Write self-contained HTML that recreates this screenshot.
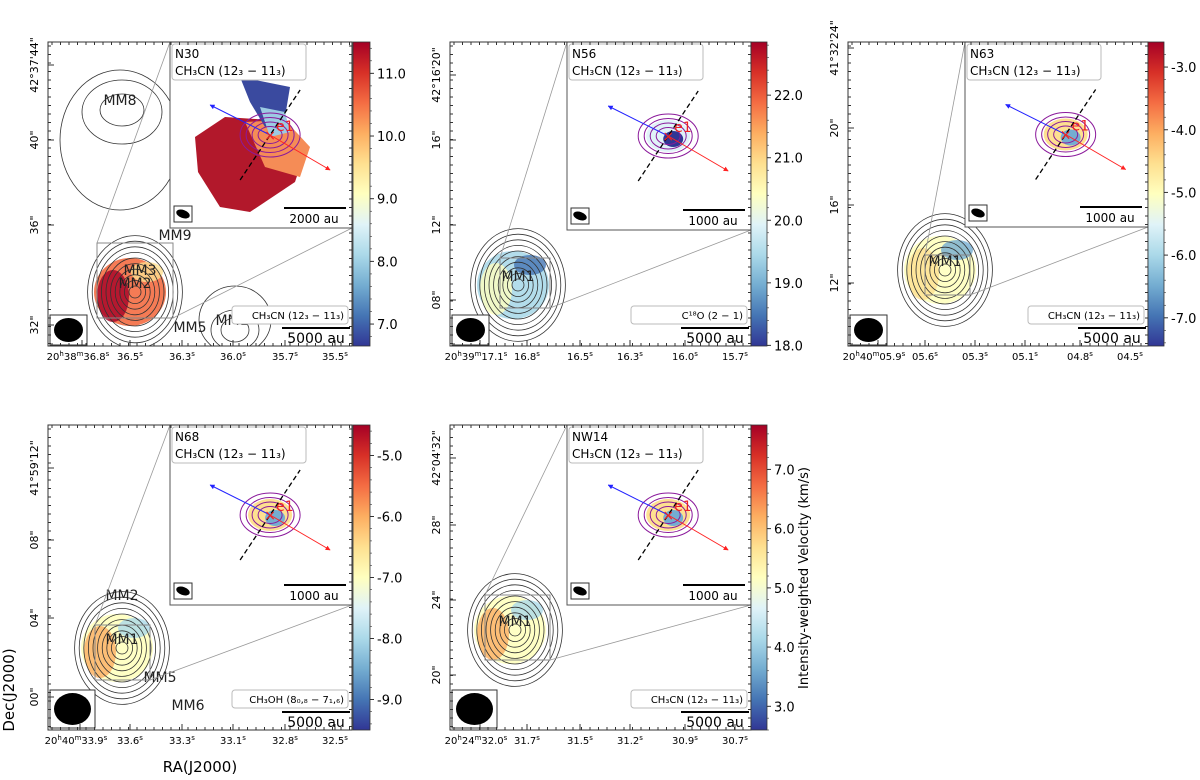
<!DOCTYPE html>
<html><head><meta charset="utf-8">
<style>
html,body{margin:0;padding:0;background:#fff;}
svg{display:block;font-family:"DejaVu Sans","Liberation Sans",sans-serif;}
</style></head>
<body>
<svg id="fig" width="1200" height="780" viewBox="0 0 1200 780" xmlns="http://www.w3.org/2000/svg">
<defs>
<linearGradient id="cmap" x1="0" y1="1" x2="0" y2="0">
<stop offset="0" stop-color="#313695"/><stop offset="0.1" stop-color="#4575b4"/><stop offset="0.2" stop-color="#74add1"/><stop offset="0.3" stop-color="#abd9e9"/><stop offset="0.4" stop-color="#e0f3f8"/><stop offset="0.5" stop-color="#ffffbf"/><stop offset="0.6" stop-color="#fee090"/><stop offset="0.7" stop-color="#fdae61"/><stop offset="0.8" stop-color="#f46d43"/><stop offset="0.9" stop-color="#d73027"/><stop offset="1" stop-color="#a50026"/>
</linearGradient>
<marker id="ar" viewBox="0 0 10 10" refX="9" refY="5" markerWidth="5" markerHeight="5" orient="auto"><path d="M0,0L10,5L0,10z" fill="#f22"/></marker>
<marker id="ab" viewBox="0 0 10 10" refX="9" refY="5" markerWidth="5" markerHeight="5" orient="auto"><path d="M0,0L10,5L0,10z" fill="#22f"/></marker>
</defs>
<text x="14" y="690" font-size="15" text-anchor="middle" transform="rotate(-90 14 690)">Dec(J2000)</text>
<text x="200" y="772" font-size="15" text-anchor="middle">RA(J2000)</text>
<text x="808" y="578" font-size="13" text-anchor="middle" transform="rotate(-90 808 578)">Intensity-weighted Velocity (km/s)</text>
</svg>
<script>
// ---- data ----
const panelNames = ["N30","N56","N63","N68","NW14"];
const lineLabels = ["CH₃CN (12₃ − 11₃)","C¹⁸O (2 − 1)","CH₃CN (12₃ − 11₃)","CH₃OH (8₀,₈ − 7₁,₆)","CH₃CN (12₃ − 11₃)"];
const cbTicks1 = [7.0,8.0,9.0,10.0,11.0];
const cbTicks2 = [18.0,19.0,20.0,21.0,22.0];
const cbTicks3 = [-7.0,-6.0,-5.0,-4.0,-3.0];
const cbTicks4 = [-9.0,-8.0,-7.0,-6.0,-5.0];
const cbTicks5 = [3.0,4.0,5.0,6.0,7.0];
const cbRanges = [[6.65,11.5],[17.99,22.85],[-7.45,-2.6],[-9.5,-4.5],[2.6,7.75]];
const yTicks1 = ["42°37'44\"","40\"","36\"","32\""];
const yTicks2 = ["42°16'20\"","16\"","12\"","08\""];
const yTicks3 = ["41°32'24\"","20\"","16\"","12\""];
const yTicks4 = ["41°59'12\"","08\"","04\"","00\""];
const yTicks5 = ["42°04'32\"","28\"","24\"","20\""];
const xTicks1 = ["20h38m36.8s","36.5s","36.3s","36.0s","35.7s","35.5s"];
const xTicks2 = ["20h39m17.1s","16.8s","16.5s","16.3s","16.0s","15.7s"];
const xTicks3 = ["20h40m05.9s","05.6s","05.3s","05.1s","04.8s","04.5s"];
const xTicks4 = ["20h40m33.9s","33.6s","33.3s","33.1s","32.8s","32.5s"];
const xTicks5 = ["20h24m32.0s","31.7s","31.5s","31.2s","30.9s","30.7s"];
const contourLevels = [1,2,3,4,5,6,7,8,9,10];
const sourceVel = [10.6,19.6,-5.2,-6.8,5.3];

const S = "http://www.w3.org/2000/svg";
const fig = document.getElementById('fig');
function el(t,a,p){const e=document.createElementNS(S,t);for(const k in a)e.setAttribute(k,a[k]);(p||fig).appendChild(e);return e;}
const stops=["#313695","#4575b4","#74add1","#abd9e9","#e0f3f8","#ffffbf","#fee090","#fdae61","#f46d43","#d73027","#a50026"];
function cmap(f){f=Math.max(0,Math.min(1,f));return stops[Math.round(f*10)];}
function raText(t,s){
  const parts=s.split(/([hms])/).filter(p=>p);
  let up=false;
  parts.forEach(p=>{
    const sup=(p==='h'||p==='m'||p==='s');
    const a={};
    if(sup){a['font-size']='7';if(!up)a.dy='-4';up=true;}
    else{if(up)a.dy='4';up=false;}
    const ts=el('tspan',a,t);ts.textContent=p;});
}

const layout=[
 {f:[48,42,304,304],cb:[353,42,17,304],ins:[170,42,182,186],box:[97,243,76,75],src:[135,292],yl:[65,140,225,325],xl:[82,130,182,233,285,335],beam:[50,315,37,30]},
 {f:[450,42,301,304],cb:[751,42,16,304],ins:[567,42,184,188],box:[500,258,50,50],src:[518,285],yl:[75,140,225,300],xl:[480,527,580,630,685,735],beam:[452,315,37,30]},
 {f:[848,42,300,304],cb:[1148,42,16,304],ins:[965,42,183,185],box:[925,255,45,40],src:[945,270],yl:[48,128,205,283],xl:[878,925,975,1025,1080,1130],beam:[850,315,37,30]},
 {f:[48,425,304,305],cb:[353,425,17,305],ins:[170,425,182,180],box:[95,625,55,55],src:[122,648],yl:[468,540,618,697],xl:[80,130,182,233,285,335],beam:[50,690,45,38]},
 {f:[450,425,301,305],cb:[751,425,16,305],ins:[567,425,184,180],box:[485,595,65,65],src:[515,630],yl:[458,525,600,675],xl:[480,527,580,630,685,735],beam:[452,690,45,38]}
];
const cbT=[cbTicks1,cbTicks2,cbTicks3,cbTicks4,cbTicks5];
const yT=[yTicks1,yTicks2,yTicks3,yTicks4,yTicks5];
const xT=[xTicks1,xTicks2,xTicks3,xTicks4,xTicks5];

layout.forEach((L,i)=>{
 const g=el('g',{});
 
 
 const [x,y,w,h]=L.f;
 const [sx,sy]=L.src;
 const clip=el('clipPath',{id:'cp'+i},g);el('rect',{x:x,y:y,width:w,height:h},clip);
 const gc=el('g',{'clip-path':`url(#cp${i})`},g);
 const [r0,r1]=cbRanges[i];
 const fv=(sourceVel[i]-r0)/(r1-r0);
 const blob=el('ellipse',{cx:sx-5,cy:sy,rx:36,ry:34,fill:cmap(fv),opacity:0.9},gc);
 
 
 el('ellipse',{cx:sx-22,cy:sy+4,rx:16,ry:26,fill:cmap(fv+0.15),opacity:0.8},gc);
 el('ellipse',{cx:sx+12,cy:sy-20,rx:16,ry:10,fill:cmap(fv-0.25),opacity:0.8},gc);
 contourLevels.forEach((lv,k)=>{
   const c=el('ellipse',{cx:sx,cy:sy,rx:52-lv*4.6,ry:62-lv*5.6,fill:'none',stroke:'#333','stroke-width':0.8},gc);
   
   
 });
 if(i==0){ [[122,110,22,16],[122,112,40,32],[120,140,60,70]].forEach(a=>el('ellipse',{cx:a[0],cy:a[1],rx:a[2],ry:a[3],fill:'none',stroke:'#333','stroke-width':0.8},gc));
   [[235,330,14,12],[235,330,24,20],[235,320,36,34]].forEach(a=>el('ellipse',{cx:a[0],cy:a[1],rx:a[2],ry:a[3],fill:'none',stroke:'#333','stroke-width':0.8},gc));
   [['MM8',120,105],['MM9',175,240],['MM3',140,275],['MM5',190,332],['MM1',232,325]].forEach(m=>{const t=el('text',{x:m[1],y:m[2],'font-size':14,'text-anchor':'middle',fill:'#222'},gc);t.textContent=m[0];});}
 if(i==3){[['MM2',122,600],['MM5',160,682],['MM6',188,710]].forEach(m=>{const t=el('text',{x:m[1],y:m[2],'font-size':14,'text-anchor':'middle',fill:'#222'},gc);t.textContent=m[0];});}
 const ml=el('text',{x:sx,y:sy-4,'font-size':14,'text-anchor':'middle',fill:'#222'},gc);ml.textContent=i==0?'MM2':'MM1';
 
 const [bx,by,bw,bh]=L.box;const [ix,iy,iw,ih]=L.ins;
 el('rect',{x:bx,y:by,width:bw,height:bh,fill:'none',stroke:'#888','stroke-width':1},g);
 el('line',{x1:bx,y1:by,x2:ix,y2:iy,stroke:'#999','stroke-width':0.8},g);
 el('line',{x1:bx+bw,y1:by+bh,x2:ix+iw,y2:iy+ih,stroke:'#999','stroke-width':0.8},g);
 const ins=el('rect',{x:ix,y:iy,width:iw,height:ih,fill:'#fff',stroke:'#555','stroke-width':1},g);
 
 const icx=ix+iw*0.55, icy=iy+ih*0.5;
 if(i==0){
   el('polygon',{points:`${ix+25},${iy+95} ${ix+55},${iy+75} ${ix+100},${iy+78} ${ix+135},${iy+110} ${ix+125},${iy+140} ${ix+80},${iy+170} ${ix+50},${iy+165} ${ix+28},${iy+130}`,fill:'#b2182b'},g);
   el('polygon',{points:`${ix+75},${iy+80} ${ix+115},${iy+78} ${ix+140},${iy+105} ${ix+130},${iy+135} ${ix+95},${iy+125}`,fill:'#f58c56'},g);
   el('polygon',{points:`${ix+70},${iy+35} ${ix+120},${iy+45} ${ix+115},${iy+75} ${ix+95},${iy+85} ${ix+80},${iy+60}`,fill:'#3a4a9f'},g);
   el('polygon',{points:`${ix+90},${iy+65} ${ix+115},${iy+70} ${ix+120},${iy+90} ${ix+100},${iy+95}`,fill:'#9ccbe3'},g);
 } else {
   el('ellipse',{cx:icx,cy:icy,rx:22,ry:16,fill:cmap(fv+0.1)},g);
   el('ellipse',{cx:icx+5,cy:icy+3,rx:10,ry:8,fill:cmap(fv-0.3)},g);
 }
 for(let k=0;k<4;k++) el('ellipse',{cx:icx,cy:icy,rx:30-k*6,ry:22-k*4.5,fill:'none',stroke:'#8b1a9b','stroke-width':1},g);
 el('line',{x1:icx-30,y1:icy+45,x2:icx+30,y2:icy-45,stroke:'#000','stroke-dasharray':'5,3','stroke-width':1.3},g);
 el('line',{x1:icx,y1:icy,x2:icx+60,y2:icy+35,stroke:'#f22','stroke-width':1,'marker-end':'url(#ar)'},g);
 el('line',{x1:icx,y1:icy,x2:icx-60,y2:icy-30,stroke:'#22f','stroke-width':1,'marker-end':'url(#ab)'},g);
 const xm=el('text',{x:icx,y:icy+5,'font-size':14,'text-anchor':'middle',fill:'#e22'},g);xm.textContent='×';
 const el1=el('text',{x:icx+6,y:icy-4,'font-size':14,fill:'#e22'},g);el1.textContent='e1';
 el('rect',{x:ix+2,y:iy+2,width:134,height:36,rx:3,fill:'#fff',stroke:'#bbb'},g);
 const t1=el('text',{x:ix+5,y:iy+16,'font-size':12},g);t1.textContent=panelNames[i];
 
 const t2=el('text',{x:ix+5,y:iy+33,'font-size':12},g);t2.textContent='CH₃CN (12₃ − 11₃)';
 el('rect',{x:ix+4,y:ih+iy-22,width:18,height:16,fill:'#fff',stroke:'#333'},g);
 el('ellipse',{cx:ix+13,cy:ih+iy-14,rx:7,ry:4,fill:'#000',transform:`rotate(20 ${ix+13} ${ih+iy-14})`},g);
 el('line',{x1:ix+iw-68,y1:iy+ih-20,x2:ix+iw-6,y2:iy+ih-20,stroke:'#000','stroke-width':2},g);
 const sb=el('text',{x:ix+iw-38,y:iy+ih-5,'font-size':12,'text-anchor':'middle'},g);sb.textContent=i==0?'2000 au':'1000 au';
 el('rect',{x:x+w-120,y:y+h-40,width:116,height:18,rx:3,fill:'#fff',stroke:'#bbb'},g);
 const ll=el('text',{x:x+w-8,y:y+h-27,'font-size':10,'text-anchor':'end'},g);ll.textContent=lineLabels[i];
 
 const [bbx,bby,bbw,bbh]=L.beam;
 el('rect',{x:bbx,y:bby,width:bbw,height:bbh,fill:'#fff',stroke:'#333'},g);
 el('ellipse',{cx:bbx+bbw/2,cy:bby+bbh/2,rx:bbw/2-4,ry:bbh/2-3,fill:'#000'},g);
 el('line',{x1:x+w-70,y1:y+h-18,x2:x+w-2,y2:y+h-18,stroke:'#000','stroke-width':2},g);
 const s2=el('text',{x:x+w-36,y:y+h-3,'font-size':14,'text-anchor':'middle'},g);s2.textContent='5000 au';
 
 const fr=el('rect',{x:x,y:y,width:w,height:h,fill:'none',stroke:'#333','stroke-width':1},g);
 
 for(let t=x+4;t<x+w;t+=8.5){el('line',{x1:t,y1:y,x2:t,y2:y+3,stroke:'#333'},g);el('line',{x1:t,y1:y+h,x2:t,y2:y+h-3,stroke:'#333'},g);}
 for(let t=y+4;t<y+h;t+=8.5){el('line',{x1:x,y1:t,x2:x+3,y2:t,stroke:'#333'},g);el('line',{x1:x+w,y1:t,x2:x+w-3,y2:t,stroke:'#333'},g);}
 yT[i].forEach((s,k)=>{const yy=L.yl[k];const tx=el('text',{x:x-10,y:yy,'font-size':11,'text-anchor':'middle',transform:`rotate(-90 ${x-10} ${yy})`},g);tx.textContent=s;
   
   el('line',{x1:x,y1:yy,x2:x+6,y2:yy,stroke:'#333'},g);});
 xT[i].forEach((s,k)=>{const xx=L.xl[k];const tx=el('text',{x:k==0?xx-4:xx,y:y+h+14,'font-size':10,'text-anchor':'middle'},g);raText(tx,s);
   
   el('line',{x1:xx,y1:y+h,x2:xx,y2:y+h-6,stroke:'#333'},g);});
 const [cx,cy,cw,ch]=L.cb;
 const cbr=el('rect',{x:cx,y:cy,width:cw,height:ch,fill:'url(#cmap)',stroke:'#333','stroke-width':0.8},g);
 
 const sc=v=>cy+ch-(v-r0)/(r1-r0)*ch;
 cbT[i].forEach(v=>{const yy=sc(v);el('line',{x1:cx+cw,y1:yy,x2:cx+cw+4,y2:yy,stroke:'#333'},g);
   const tx=el('text',{x:cx+cw+7,y:yy+5,'font-size':13},g);tx.textContent=v.toFixed(1);
   });
 for(let v=Math.ceil(r0*5)/5;v<r1;v+=0.2){const yy=sc(v);el('line',{x1:cx+cw,y1:yy,x2:cx+cw+2,y2:yy,stroke:'#333','stroke-width':0.6},g);}
});
</script>
</body></html>
